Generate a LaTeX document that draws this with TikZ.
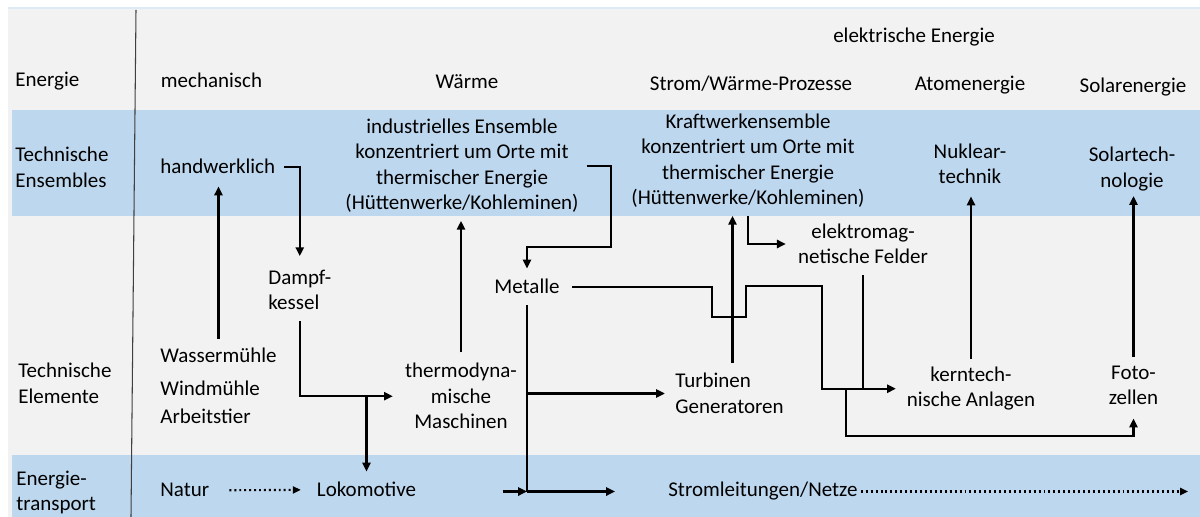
\documentclass[tikz,border=0pt]{standalone}
\usepackage{fontspec}
\setmainfont{Carlito}
\usetikzlibrary{arrows.meta,calc}
\definecolor{bgray}{HTML}{F2F2F2}
\definecolor{bblue}{HTML}{BDD7EE}
\definecolor{tline}{HTML}{DDEBF7}
\definecolor{sepcol}{HTML}{404040}
\begin{document}
\begin{tikzpicture}[x=0.567pt,y=-0.567pt,
  font=\fontsize{11.9pt}{14.5pt}\selectfont,
  lbl/.style={inner sep=0pt, anchor=base},
  lblw/.style={inner sep=0pt, anchor=base west},
  ml/.style={inner sep=0pt, align=center, anchor=base},
  mlw/.style={inner sep=0pt, align=left, anchor=base west},
  conn/.style={line width=1.3pt},
  arr/.style={conn, -{Triangle[length=5pt,width=4.6pt]}},
  dotarr/.style={line width=1.2pt, dash pattern=on 1.1pt off 1.7pt, -{Triangle[length=4.5pt,width=4pt]}},
]
\useasboundingbox (0,0) rectangle (1200,517);
% background
\fill[tline] (8,7) rectangle (1200,9.5);
\fill[bgray] (8,9.5) rectangle (1200,517);
\fill[bblue] (12,110) rectangle (1200,216);
\fill[bblue] (12,455) rectangle (1200,517);
\draw[sepcol, line width=0.6pt] (136,10) -- (131,517);

% header row
\node[lbl] (elek) at (914,43) {elektrische Energie};
\node[lblw] (lEn) at (15,87) {Energie};
\node[lbl] (mech) at (211.5,88) {mechanisch};
\node[lbl] (waerme) at (467,89) {Wärme};
\node[lbl] (swp) at (751,90.5) {Strom/Wärme-Prozesse};
\node[lbl] (atom) at (970,90.5) {Atomenergie};
\node[lbl] (solen) at (1133,92.5) {Solarenergie};

% left column (base = last line)
\node[mlw] (lTE) at (15,187.5) {Technische\\Ensembles};
\node[mlw] (lTEl) at (18,403.5) {Technische\\Elemente};
\node[mlw] (lET) at (16,511) {Energie-\\transport};

% ensembles
\node[lblw] (hand) at (160,174) {handwerklich};
\node[ml] (ind) at (462,210) {industrielles Ensemble\\konzentriert um Orte mit\\thermischer Energie\\(Hüttenwerke/Kohleminen)};
\node[ml] (kraft) at (748,205) {Kraftwerkensemble\\konzentriert um Orte mit\\thermischer Energie\\(Hüttenwerke/Kohleminen)};
\node[ml] (nuk) at (970,184) {Nuklear-\\technik};
\node[ml] (soltech) at (1132,187.5) {Solartech-\\nologie};

% elements
\node[mlw] (dampf) at (268,310) {Dampf-\\kessel};
\node[lbl] (metalle) at (527,294) {Metalle};
\node[ml] (felder) at (863,264) {elektromag-\\netische Felder};
\node[lblw] (wasser) at (160,363) {Wassermühle};
\node[lblw] (wind) at (160,396) {Windmühle};
\node[lblw] (arbeit) at (160,424) {Arbeitstier};
\node[ml] (thermo) at (461,429) {thermodyna-\\mische\\Maschinen};
\node[mlw] (turb) at (675,413.5) {Turbinen\\Generatoren};
\node[ml] (kern) at (971,407) {kerntech-\\nische Anlagen};
\node[ml] (foto) at (1133.5,405) {Foto-\\zellen};

% transport
\node[lblw] (natur) at (160,497) {Natur};
\node[lbl] (loko) at (366.5,497) {Lokomotive};
\node[lblw] (strom) at (668,497) {Stromleitungen/Netze};

% helper coordinates
\coordinate (c5) at (611,247);
\coordinate (j6) at (metalle.south |- strom.west);
\coordinate (s6) at (615,0);
\coordinate (c7) at (822,0);
\coordinate (c9) at (846,436);
\coordinate (e15) at (1188,0);

% connectors
\draw[arr, shorten <=5.4pt, shorten >=6.8pt] (wasser.north) -- (wasser.north |- hand.south);
\draw[arr, shorten <=5.1pt, shorten >=7.7pt] (hand.east) -| (dampf.north);
\draw[arr, shorten <=6.2pt, shorten >=6.8pt] (dampf.south) |- (thermo.west);
\draw[arr, shorten >=6pt] (loko.north |- thermo.west) -- (loko.north);
\draw[arr, shorten <=6pt, shorten >=4.3pt] (thermo.north) -- (thermo.north |- ind.south);
\draw[arr, shorten <=4.5pt, shorten >=6pt] (ind.east) -| (c5) -| (metalle.north);
\draw[conn, shorten <=6.2pt] (metalle.south) -- (j6);
\draw[arr, shorten >=5.7pt] (metalle.south |- turb.west) -- (turb.west);
\draw[arr, shorten <=49pt] (loko.east |- j6) -- (j6);
\draw[arr] (j6) -- (s6 |- j6);
\draw[arr, shorten <=6.8pt, shorten >=6pt] (metalle.east) -- ++(152,0) -- ++(0,30) -- ++(34,0) -- ++(0,-31) -| (c7 |- kern.west) -- (kern.west);
\draw[conn, shorten <=6.2pt] (felder.south) -- (felder.south |- kern.west);
\draw[arr, shorten >=7.4pt] (c9 |- kern.west) -- (c9) -| (foto.south);
\draw[arr, shorten <=5.4pt, shorten >=4.3pt] ([xshift=1.7pt]turb.north) -- ([xshift=1.7pt]turb.north |- kraft.south);
\draw[arr, shorten <=4.3pt, shorten >=6.8pt] (kraft.south) |- (felder.west);
\draw[arr, shorten <=4.3pt, shorten >=6.8pt] (kern.north) -- (kern.north |- nuk.south);
\draw[arr, shorten <=5.1pt, shorten >=2.6pt] (foto.north) -- (foto.north |- soltech.south);
\draw[dotarr, shorten <=11.3pt, shorten >=9pt] (natur.east) -- (loko.west);
\draw[dotarr, shorten <=1.7pt] (strom.east) -- (e15 |- strom.east);
\end{tikzpicture}
\end{document}
